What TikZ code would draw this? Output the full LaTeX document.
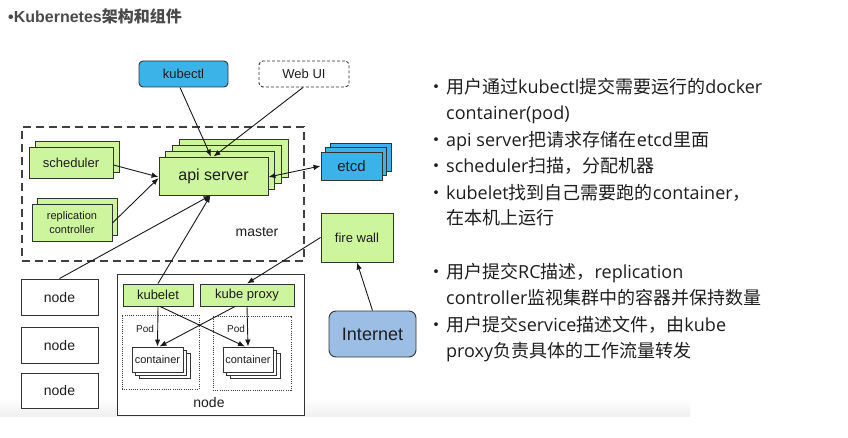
\documentclass[tikz,border=0pt]{standalone}
\usepackage{fontspec}
\setmainfont{Liberation Sans}
\newfontfamily\cjk{Noto Sans CJK SC}
\newfontfamily\lat{Open Sans}
\usetikzlibrary{arrows.meta,calc}
\definecolor{lgreen}{HTML}{CCF59E}
\definecolor{kblue}{HTML}{3BB2E8}
\definecolor{iblue}{HTML}{9DBEE4}
\definecolor{txt}{HTML}{1E1E1E}
\definecolor{ttl}{HTML}{4A4A4A}
\begin{document}
\begin{tikzpicture}[x=1pt,y=-1pt,
  basebox/.style={draw=black!80, line width=0.9pt, inner sep=0pt, align=center, text=txt},
  gbox/.style={basebox, fill=lgreen},
  bbox/.style={basebox, fill=kblue},
  wbox/.style={basebox, fill=white},
  arr/.style={line width=0.9pt, draw=black!90, -{Latex[length=7pt,width=5.5pt]}},
  darr/.style={line width=0.9pt, draw=black!90, {Latex[length=7pt,width=5.5pt]}-{Latex[length=7pt,width=5.5pt]}},
  podbox/.style={draw=black!75, line width=0.8pt, dash pattern=on 1pt off 1.2pt, inner sep=0pt},
  rline/.style={anchor=base west, inner sep=0pt, font=\cjk\fontsize{18}{20}\selectfont, text=txt},
  rbul/.style={anchor=base, inner sep=0pt, font=\cjk\fontsize{18}{20}\selectfont, text=txt}
]
\useasboundingbox (0,0) rectangle (848,438);
\fill[white] (0,0) rectangle (848,438);
\shade[top color=white, bottom color=black!6] (0,398) rectangle (690,416);

% title
\node[anchor=west, inner sep=0pt, text=ttl, font=\fontsize{16}{18}\selectfont] (title) at (8,16) {{\bfseries •Kubernetes}{\cjk\bfseries 架构和组件}};

% master box
\node[draw=black!75, line width=1.2pt, dash pattern=on 8pt off 5pt, minimum width=282pt, minimum height=134pt, inner sep=0pt] (masterbox) at (163,194) {};
\node[inner sep=0pt, text=txt, font=\fontsize{14}{16}\selectfont] (masterlbl) at (257,232) {master};

% kubectl / web ui
\node[bbox, rounded corners=4pt, minimum width=89pt, minimum height=26pt, font=\fontsize{13}{15}\selectfont] (kubectl) at (183.5,74) {kubectl};
\node[wbox, rounded corners=4pt, dash pattern=on 3pt off 2pt, minimum width=90pt, minimum height=26pt, font=\fontsize{13}{15}\selectfont] (webui) at (304,74) {Web UI};

% scheduler
\node[gbox, minimum width=84pt, minimum height=31pt] (sched1) at (77,156.5) {};
\node[gbox, minimum width=84pt, minimum height=31pt, font=\fontsize{13}{15}\selectfont] (sched) at (71,162.5) {scheduler};

% replication controller
\node[gbox, minimum width=80pt, minimum height=37pt] (repl1) at (77,216.5) {};
\node[gbox, minimum width=80pt, minimum height=37pt, font=\fontsize{11}{14}\selectfont] (repl) at (72,222.5) {replication\\controller};

% api server
\node[gbox, minimum width=109pt, minimum height=38pt] (api3) at (233.6,158) {};
\node[gbox, minimum width=109pt, minimum height=38pt] (api2) at (226.9,164) {};
\node[gbox, minimum width=109pt, minimum height=38pt] (api1) at (220.2,170) {};
\node[gbox, minimum width=109pt, minimum height=38pt, font=\fontsize{16}{18}\selectfont] (api) at (213.5,176) {api server};

% etcd
\node[bbox, minimum width=61pt, minimum height=28pt] (etcd2) at (360.5,157) {};
\node[bbox, minimum width=61pt, minimum height=28pt] (etcd1) at (356,161.5) {};
\node[bbox, minimum width=61pt, minimum height=28pt, font=\fontsize{15}{17}\selectfont] (etcd) at (351.5,166) {etcd};

% fire wall, internet
\node[gbox, minimum width=72pt, minimum height=49pt, font=\fontsize{13}{15}\selectfont] (firewall) at (357,237.5) {fire wall};
\node[basebox, fill=iblue, rounded corners=7pt, minimum width=87pt, minimum height=46pt, font=\fontsize{18}{20}\selectfont] (internet) at (372.5,334) {Internet};

% left nodes
\node[wbox, minimum width=77pt, minimum height=36pt, font=\fontsize{14}{16}\selectfont] (node1) at (59.5,297) {node};
\node[wbox, minimum width=77pt, minimum height=36pt, font=\fontsize{14}{16}\selectfont] (node2) at (59.5,345) {node};
\node[wbox, minimum width=77pt, minimum height=35pt, font=\fontsize{14}{16}\selectfont] (node3) at (59.5,390.5) {node};

% big node
\node[wbox, minimum width=187pt, minimum height=141pt] (nodebig) at (210.5,344.5) {};
\node[inner sep=0pt, text=txt, font=\fontsize{14}{16}\selectfont] (nodelbl) at (209,402) {node};
\node[gbox, minimum width=70pt, minimum height=22pt, font=\fontsize{13}{15}\selectfont] (kubelet) at (158,295) {kubelet};
\node[gbox, minimum width=94pt, minimum height=22pt, font=\fontsize{13}{15}\selectfont] (kubeproxy) at (247,295) {kube proxy};

% pods
\node[podbox, minimum width=77pt, minimum height=74pt] (podL) at (160.5,352) {};
\node[podbox, minimum width=78pt, minimum height=74pt] (podR) at (252,353) {};
\node[inner sep=0pt, text=txt, font=\fontsize{10}{12}\selectfont] (podLl) at (145,329) {Pod};
\node[inner sep=0pt, text=txt, font=\fontsize{10}{12}\selectfont] (podRl) at (236,329) {Pod};

% containers
\node[wbox, minimum width=51pt, minimum height=25pt] (contL2) at (164.5,365.5) {};
\node[wbox, minimum width=51pt, minimum height=25pt] (contL1) at (161,362.5) {};
\node[wbox, minimum width=51pt, minimum height=25pt, font=\fontsize{11}{13}\selectfont] (contL) at (157.5,359.5) {container};
\node[wbox, minimum width=50pt, minimum height=25pt] (contR2) at (255,365.5) {};
\node[wbox, minimum width=50pt, minimum height=25pt] (contR1) at (251.5,362.5) {};
\node[wbox, minimum width=50pt, minimum height=25pt, font=\fontsize{11}{13}\selectfont] (contR) at (248,359.5) {container};

% connectors
\draw[arr] ($(kubectl.south)+(-3.5,0)$) -- ($(api.north)+(-2.5,0)$);
\draw[arr] ($(webui.south)+(-1,0)$) -- (api.north);
\draw[arr] ($(sched.east)+(0,2.5)$) -- ($(api.west)+(0,1)$);
\draw[arr] ($(repl.east)+(0,0.5)$) -- ($(api.west)+(0,2)$);
\draw[darr] ($(api.east)+(0,1)$) -- (etcd.west);
\draw[arr] (node1.north) -- ($(api.south)+(-3,0)$);
\draw[arr] (kubelet.north) -- ($(api.south)+(-3,0)$);
\draw[arr] (firewall.west) -- (kubeproxy.north);
\draw[arr] (internet.north) -- (firewall.south);
\draw[arr] (kubelet.south) -- (contL.north);
\draw[arr] ($(kubelet.south)+(2,0)$) -- ($(contR.north)+(-3,0)$);
\draw[arr] (kubeproxy.south) -- (contR.north);
\draw[arr] ($(kubeproxy.south)+(-12,0)$) -- ($(contL.north)+(2,0)$);

% right text
\node[rbul] (b1) at (436,94) {•};
\node[rline] (l1) at (446,94) {用户通过{\lat kubectl}提交需要运行的{\lat docker}};
\node[rline] (l2) at (446,120) {{\lat container(pod)}};
\node[rbul] (b3) at (436,147) {•};
\node[rline] (l3) at (446,147) {{\lat api server}把请求存储在{\lat etcd}里面};
\node[rbul] (b4) at (436,173) {•};
\node[rline] (l4) at (446,173) {{\lat scheduler}扫描，分配机器};
\node[rbul] (b5) at (436,200) {•};
\node[rline] (l5) at (446,200) {{\lat kubelet}找到自己需要跑的{\lat container}，};
\node[rline] (l6) at (446,225) {在本机上运行};
\node[rbul] (b7) at (436,278) {•};
\node[rline] (l7) at (446,278) {用户提交{\lat RC}描述，{\lat replication}};
\node[rline] (l8) at (446,304) {{\lat controller}监视集群中的容器并保持数量};
\node[rbul] (b9) at (436,331) {•};
\node[rline] (l9) at (446,331) {用户提交{\lat service}描述文件，由{\lat kube}};
\node[rline] (l10) at (446,357) {{\lat proxy}负责具体的工作流量转发};
\end{tikzpicture}
\end{document}
